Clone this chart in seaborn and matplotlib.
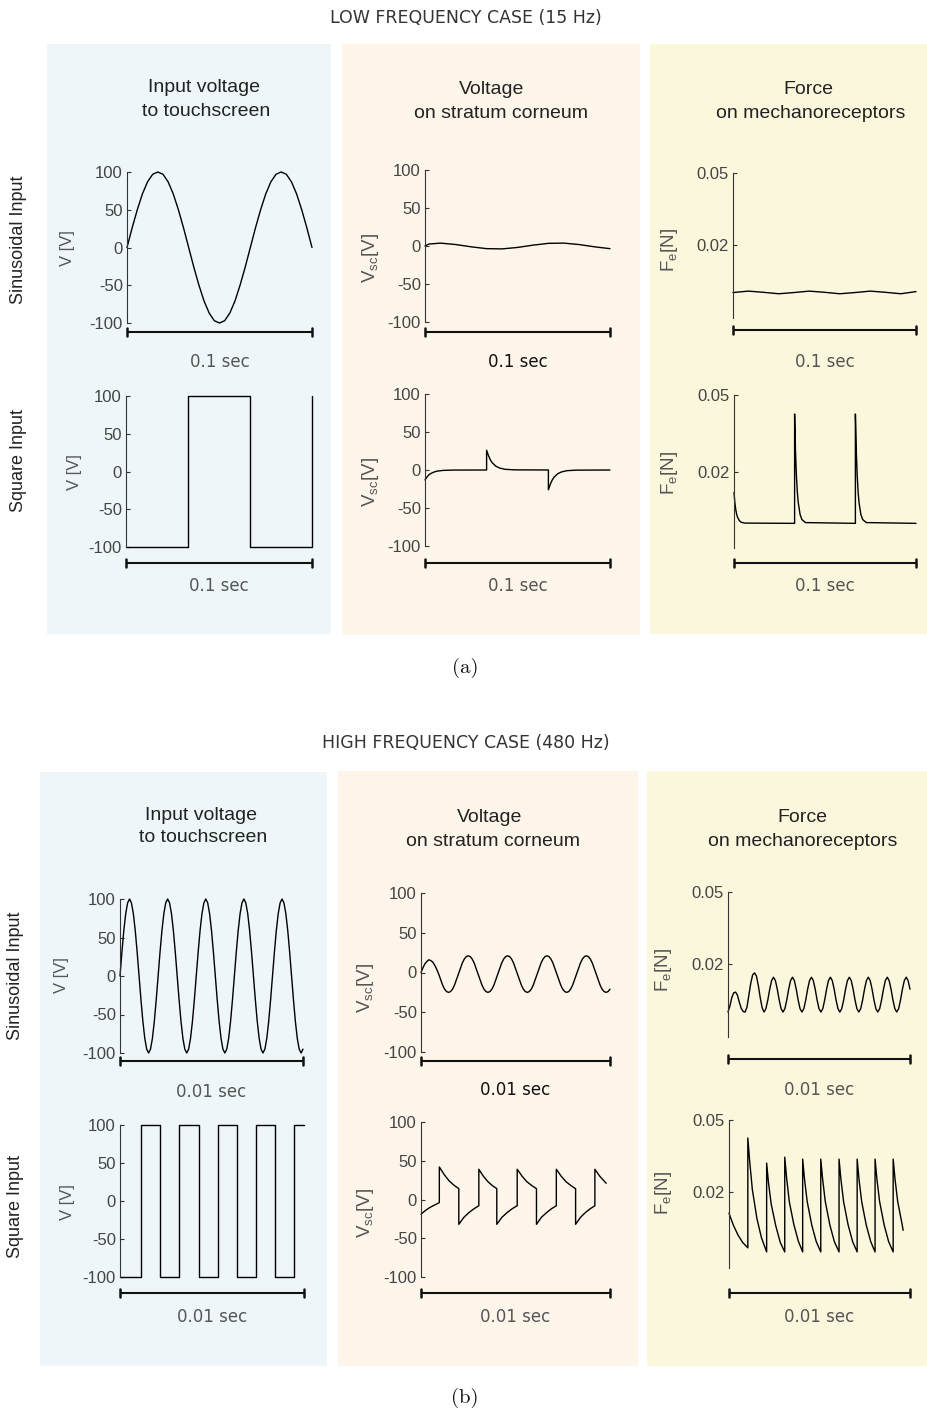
import numpy as np
import matplotlib
matplotlib.use("Agg")
import matplotlib.pyplot as plt
import matplotlib.transforms as mtransforms
from matplotlib.patches import Rectangle
import seaborn as sns

sns.set_theme(style="white")
plt.rcParams["font.family"] = ["Liberation Sans", "DejaVu Sans"]
plt.rcParams["mathtext.fontset"] = "custom"
plt.rcParams["mathtext.rm"] = "Liberation Sans"
plt.rcParams["mathtext.it"] = "Liberation Sans:italic"
plt.rcParams["axes.unicode_minus"] = False

# ---------------- data ----------------
# Low frequency case (15 Hz), time window 0.1 s
T_LOW = 0.1
t_low_sin = np.linspace(0, 0.1, 37)
v_low_sin = [0, 26, 50, 71, 87, 97, 100, 97, 87, 71, 50, 26, 0, -26, -50, -71, -87, -97,
             -100, -97, -87, -71, -50, -26, 0, 26, 50, 71, 87, 97, 100, 97, 87, 71, 50, 26, 0]

t_low_sin_vsc = [0, 0.002, 0.0083, 0.0167, 0.025, 0.0333, 0.0417, 0.05, 0.0583, 0.0667,
                 0.075, 0.0833, 0.0917, 0.1]
vsc_low_sin = [0, 2.5, 3.8, 1.9, -1.1, -3.5, -3.8, -1.9, 1.1, 3.5, 3.8, 1.9, -1.1, -3.5]

t_low_sin_f = np.linspace(0, 0.1, 13)
f_low_sin = [0.0002, 0.0008, 0.0003, -0.0003, 0.0002, 0.0008, 0.0003, -0.0003, 0.0002,
             0.0008, 0.0003, -0.0003, 0.0006]

t_low_sq = [0, 0.0333, 0.0333, 0.0667, 0.0667, 0.1, 0.1]
v_low_sq = [-100, -100, 100, 100, -100, -100, 100]

t_low_sq_vsc = [0, 0.001, 0.002, 0.003, 0.005, 0.007, 0.010, 0.015, 0.0333,
                0.0333, 0.0343, 0.0353, 0.0363, 0.0383, 0.0403, 0.0433, 0.0483, 0.0667,
                0.0667, 0.0677, 0.0687, 0.0697, 0.0717, 0.0737, 0.0767, 0.0817, 0.1]
vsc_low_sq = [-13, -9.4, -6.6, -4.8, -2.5, -1.3, -0.5, -0.1, 0,
              26, 19, 13.5, 9.6, 5, 2.6, 0.9, 0.2, 0,
              -26, -19, -13.5, -9.6, -5, -2.6, -0.9, -0.2, 0]

t_low_sq_f = [0, 0.0005, 0.001, 0.0015, 0.002, 0.003, 0.004, 0.006, 0.0333,
              0.0333, 0.0338, 0.0343, 0.0348, 0.0353, 0.0363, 0.0373, 0.0393, 0.0667,
              0.0667, 0.0672, 0.0677, 0.0682, 0.0687, 0.0697, 0.0707, 0.0727, 0.1]
f_low_sq = [0.012, 0.0079, 0.0052, 0.0034, 0.0023, 0.001, 0.0004, 0.0001, 0.0,
            0.0426, 0.028, 0.0185, 0.0122, 0.0081, 0.0035, 0.0015, 0.0003, 0.0,
            0.0426, 0.028, 0.0185, 0.0122, 0.0081, 0.0035, 0.0015, 0.0003, 0.0]

# High frequency case (480 Hz), time window 0.01 s
T_HIGH = 0.01
t_high_sin = np.linspace(0, 0.01, 97)
v_high_sin = [0, 31, 59, 81, 95, 100, 95, 81, 59, 31, 0, -31, -59, -81, -95, -100, -95, -81, -59, -31,
              0, 31, 59, 81, 95, 100, 95, 81, 59, 31, 0, -31, -59, -81, -95, -100, -95, -81, -59, -31,
              0, 31, 59, 81, 95, 100, 95, 81, 59, 31, 0, -31, -59, -81, -95, -100, -95, -81, -59, -31,
              0, 31, 59, 81, 95, 100, 95, 81, 59, 31, 0, -31, -59, -81, -95, -100, -95, -81, -59, -31,
              0, 31, 59, 81, 95, 100, 95, 81, 59, 31, 0, -31, -59, -81, -95, -100, -95]
vsc_high_sin = [0, 6, 11, 14, 16, 15, 13, 9, 4,
                -2, -9, -16, -21, -24, -25, -24, -21, -16, -9,
                -2, 5, 12, 17, 20, 21, 20, 17, 12, 5, -2, -9, -16, -21, -24, -25, -24, -21, -16, -9,
                -2, 5, 12, 17, 20, 21, 20, 17, 12, 5, -2, -9, -16, -21, -24, -25, -24, -21, -16, -9,
                -2, 5, 12, 17, 20, 21, 20, 17, 12, 5, -2, -9, -16, -21, -24, -25, -24, -21, -16, -9,
                -2, 5, 12, 17, 20, 21, 20, 17, 12, 5, -2, -9, -16, -21, -24, -25, -24, -21]
f_high_sin = [0.0, 0.0025, 0.006, 0.008, 0.0083, 0.007, 0.004, 0.0015, 0.0002, 0.0,
              0.002, 0.007, 0.012, 0.0155, 0.0163, 0.015, 0.011, 0.006, 0.0018, 0.0,
              0.0014, 0.005, 0.0095, 0.0131, 0.0145, 0.0131, 0.0095, 0.005, 0.0014, 0.0,
              0.0014, 0.005, 0.0095, 0.0131, 0.0145, 0.0131, 0.0095, 0.005, 0.0014, 0.0,
              0.0014, 0.005, 0.0095, 0.0131, 0.0145, 0.0131, 0.0095, 0.005, 0.0014, 0.0,
              0.0014, 0.005, 0.0095, 0.0131, 0.0145, 0.0131, 0.0095, 0.005, 0.0014, 0.0,
              0.0014, 0.005, 0.0095, 0.0131, 0.0145, 0.0131, 0.0095, 0.005, 0.0014, 0.0,
              0.0014, 0.005, 0.0095, 0.0131, 0.0145, 0.0131, 0.0095, 0.005, 0.0014, 0.0,
              0.0014, 0.005, 0.0095, 0.0131, 0.0145, 0.0131, 0.0095, 0.005, 0.0014, 0.0,
              0.0014, 0.005, 0.0095, 0.0131, 0.0145, 0.0131, 0.0095]

t_high_sq_ms = [0, 1.15, 1.15, 2.19, 2.19, 3.23, 3.23, 4.27, 4.27, 5.32, 5.32,
                6.36, 6.36, 7.40, 7.40, 8.44, 8.44, 9.48, 9.48, 10.0]
v_high_sq = [-100, -100, 100, 100, -100, -100, 100, 100, -100, -100, 100,
             100, -100, -100, 100, 100, -100, -100, 100, 100]

t_high_sq_vsc_ms = [0, 0.24, 0.49, 0.73, 0.97,
                    0.97, 1.23, 1.49, 1.74, 2.00,
                    2.00, 2.27, 2.53, 2.80, 3.06,
                    3.06, 3.30, 3.54, 3.77, 4.01,
                    4.01, 4.28, 4.55, 4.82, 5.09,
                    5.09, 5.35, 5.60, 5.86, 6.11,
                    6.11, 6.37, 6.64, 6.90, 7.16,
                    7.16, 7.42, 7.67, 7.93, 8.18,
                    8.18, 8.44, 8.69, 8.95, 9.20,
                    9.20, 9.46, 9.72, 9.80]
vsc_high_sq = [-19, -14, -10, -7, -4,
               42, 32, 24, 18.5, 14,
               -32, -23, -17, -12, -8,
               39, 30, 23, 18, 14,
               -32, -23, -17, -12, -8,
               39, 30, 23, 18, 14,
               -32, -23, -17, -12, -8,
               39, 30, 23, 18, 14,
               -32, -23, -17, -12, -8,
               39, 30, 23, 21]

t_high_sq_f_ms = [0, 0.1, 0.25, 0.5, 0.75, 1.04,
                  1.04, 1.14, 1.29, 1.54, 1.79, 2.08,
                  2.08, 2.18, 2.33, 2.58, 2.83, 3.08,
                  3.08, 3.18, 3.33, 3.58, 3.83, 4.07,
                  4.07, 4.17, 4.32, 4.57, 4.82, 5.07,
                  5.07, 5.17, 5.32, 5.57, 5.82, 6.08,
                  6.08, 6.18, 6.33, 6.58, 6.83, 7.08,
                  7.08, 7.18, 7.33, 7.58, 7.83, 8.07,
                  8.07, 8.17, 8.32, 8.57, 8.82, 9.07,
                  9.07, 9.17, 9.32, 9.57, 9.62]
f_high_sq = [0.0112, 0.009, 0.006, 0.002, -0.001, -0.0033,
             0.0425, 0.033, 0.021, 0.009, 0.001, -0.005,
             0.032, 0.024, 0.015, 0.006, -0.001, -0.005,
             0.0345, 0.026, 0.016, 0.0065, -0.0005, -0.005,
             0.0337, 0.0255, 0.016, 0.0063, -0.0007, -0.005,
             0.0337, 0.0255, 0.016, 0.0063, -0.0007, -0.005,
             0.0337, 0.0255, 0.016, 0.0063, -0.0007, -0.005,
             0.0337, 0.0255, 0.016, 0.0063, -0.0007, -0.005,
             0.0337, 0.0255, 0.016, 0.0063, -0.0007, -0.005,
             0.0337, 0.0255, 0.016, 0.0063, 0.004]

v_ticks = [-100, -50, 0, 50, 100]
v_ticklabels = ["-100", "-50", "0", "50", "100"]
f_ticks = [0.02, 0.05]
f_ticklabels = ["0.02", "0.05"]

col_titles = [("Input voltage", "to touchscreen"),
              ("Voltage", "on stratum corneum"),
              ("Force", "on mechanoreceptors")]
row_titles = ["Sinusoidal Input", "Square Input"]
case_titles = ["LOW FREQUENCY CASE (15 Hz)", "HIGH FREQUENCY CASE (480 Hz)"]
sub_labels = ["(a)", "(b)"]
ylabels = ["V [V]", r"V$_{\mathrm{sc}}$[V]", r"F$_{\mathrm{e}}$[N]"]

# ---------------- figure ----------------
W, H = 928, 1416
fig = plt.figure(figsize=(W / 100, H / 100), dpi=100)
fig.patch.set_facecolor("white")

def fx(px):
    return px / W

def fy(py):
    return 1 - py / H

BLUE, ORANGE, YELLOW = "#EEF6F9", "#FDF5E9", "#FAF7DC"
panels = [(47, 331, 44, 634, BLUE), (342, 640, 44, 635, ORANGE), (650, 928, 44, 634, YELLOW),
          (40, 327, 772, 1366, BLUE), (338, 638, 771, 1366, ORANGE), (647, 928, 771, 1366, YELLOW)]
for x0, x1, y0, y1, c in panels:
    fig.patches.append(Rectangle((fx(x0), fy(y1)), (x1 - x0) / W, (y1 - y0) / H,
                                 transform=fig.transFigure, facecolor=c, edgecolor="none", zorder=-5))

TXT = "#222222"
GRAY = "#555555"

# case titles and sub labels
fig.text(fx(466), fy(18), case_titles[0], ha="center", va="center", fontsize=12.5,
         family="DejaVu Sans", color="#333333")
fig.text(fx(466), fy(743), case_titles[1], ha="center", va="center", fontsize=12.5,
         family="DejaVu Sans", color="#333333")
fig.text(fx(465), fy(668), sub_labels[0], ha="center", va="center", fontsize=15, family="cmr10", color="#111111")
fig.text(fx(465), fy(1398), sub_labels[1], ha="center", va="center", fontsize=15, family="cmr10", color="#111111")

# column headers
hdr_pos = [[(204, 88, 206, 112), (492, 90, 501, 113), (808, 90, 811, 113)],
           [(201, 815, 203, 837), (490, 817, 493, 841), (802, 817, 803, 841)]]
for blk in range(2):
    for c in range(3):
        x1_, y1_, x2_, y2_ = hdr_pos[blk][c]
        fig.text(fx(x1_), fy(y1_), col_titles[c][0], ha="center", va="center", fontsize=14, color=TXT)
        fig.text(fx(x2_), fy(y2_), col_titles[c][1], ha="center", va="center", fontsize=14, color=TXT)

# row titles
for (x, y), name in zip([(19, 240), (19, 461), (16, 976), (16, 1206)], row_titles * 2):
    fig.text(fx(x), fy(y), name, rotation=90, ha="center", va="center", fontsize=13, color=TXT)

# panel specs: box(x0,x1,ytop,ybot), t, y, T, kind, ylabel pos, bar y, label y, label color, ylim
specs = [
    ((127, 312, 172, 323), t_low_sin, v_low_sin, T_LOW, "V", (68, 248), 332, 362, GRAY, None),
    ((425, 610, 170, 322), t_low_sin_vsc, vsc_low_sin, T_LOW, "Vsc", (371, 258), 332, 362, "#111111", None),
    ((733, 916, 173, 318), t_low_sin_f, f_low_sin, T_LOW, "F", (670, 250), 330, 362, GRAY, -0.0104),
    ((126, 312, 396, 547), t_low_sq, v_low_sq, T_LOW, "V", (74, 472), 563, 586, GRAY, None),
    ((425, 610, 394, 546), t_low_sq_vsc, vsc_low_sq, T_LOW, "Vsc", (371, 482), 563, 586, GRAY, None),
    ((734, 916, 395, 548), t_low_sq_f, f_low_sq, T_LOW, "F", (670, 473), 563, 586, GRAY, -0.0096),
    ((120, 303, 899, 1053), t_high_sin, v_high_sin, T_HIGH, "V", (62, 975), 1061, 1092, GRAY, None),
    ((421, 610, 893, 1052), t_high_sin, vsc_high_sin, T_HIGH, "Vsc", (366, 988), 1061, 1090, "#111111", None),
    ((728, 910, 892, 1037), t_high_sin, f_high_sin, T_HIGH, "F", (664, 970), 1059, 1090, GRAY, -0.0104),
    ((120, 304, 1125, 1277), np.array(t_high_sq_ms) / 1000, v_high_sq, T_HIGH, "V", (68, 1202), 1293, 1317, GRAY, None),
    ((421, 610, 1122, 1277), np.array(t_high_sq_vsc_ms) / 1000, vsc_high_sq, T_HIGH, "Vsc", (366, 1213), 1293, 1317, GRAY, None),
    ((729, 910, 1120, 1268), np.array(t_high_sq_f_ms) / 1000, f_high_sq, T_HIGH, "F", (664, 1193), 1293, 1317, GRAY, -0.0117),
]

for (x0, x1, yt, yb), t, y, T, kind, (lx, ly), bar_y, lab_y, lab_col, fmin in specs:
    ax = fig.add_axes([fx(x0), fy(yb), (x1 - x0) / W, (yb - yt) / H])
    ax.set_facecolor("none")
    ax.patch.set_alpha(0)
    sns.lineplot(x=np.asarray(t, dtype=float), y=np.asarray(y, dtype=float), ax=ax,
                 color="black", linewidth=1.0, estimator=None, sort=False, legend=False)
    for ln in ax.get_lines():
        ln.set_clip_on(False)
    ax.set_xlim(0, T)
    if kind == "F":
        ax.set_ylim(fmin, 0.05)
        ax.set_yticks(f_ticks)
        ax.set_yticklabels(f_ticklabels)
        ylab = ylabels[2]
        lab_size = 13.5
    else:
        ax.set_ylim(-100, 100)
        ax.set_yticks(v_ticks)
        ax.set_yticklabels(v_ticklabels)
        ylab = ylabels[0] if kind == "V" else ylabels[1]
        lab_size = 12 if kind == "V" else 13.5
    ax.set_xticks([])
    ax.set_xlabel("")
    for s in ["top", "right", "bottom"]:
        ax.spines[s].set_visible(False)
    ax.spines["left"].set_visible(True)
    ax.spines["left"].set_color("#333333")
    ax.spines["left"].set_linewidth(0.8)
    ax.tick_params(axis="y", direction="in", length=3, width=0.8, color="#333333",
                   labelsize=12, labelcolor="#444444", pad=3, left=True)
    ax.set_ylabel(ylab, fontsize=lab_size, color=GRAY, rotation=90, va="center", ha="center")
    ax.yaxis.set_label_coords(fx(lx), fy(ly), transform=fig.transFigure)

    # scale bar in data x, figure y
    tr = mtransforms.blended_transform_factory(ax.transData, fig.transFigure)
    ax.plot([0, T], [fy(bar_y), fy(bar_y)], transform=tr, color="#111111", lw=1.5, clip_on=False,
            solid_capstyle="butt")
    cap = 4 / H
    for xe in (0, T):
        ax.plot([xe, xe], [fy(bar_y) - cap, fy(bar_y) + cap], transform=tr, color="#111111",
                lw=1.8, clip_on=False)
    ax.text(T / 2, fy(lab_y), "0.1 sec" if T == T_LOW else "0.01 sec", transform=tr,
            ha="center", va="center", fontsize=12, family="DejaVu Sans", color=lab_col)

fig.savefig("out.png", dpi=100, facecolor="white")
